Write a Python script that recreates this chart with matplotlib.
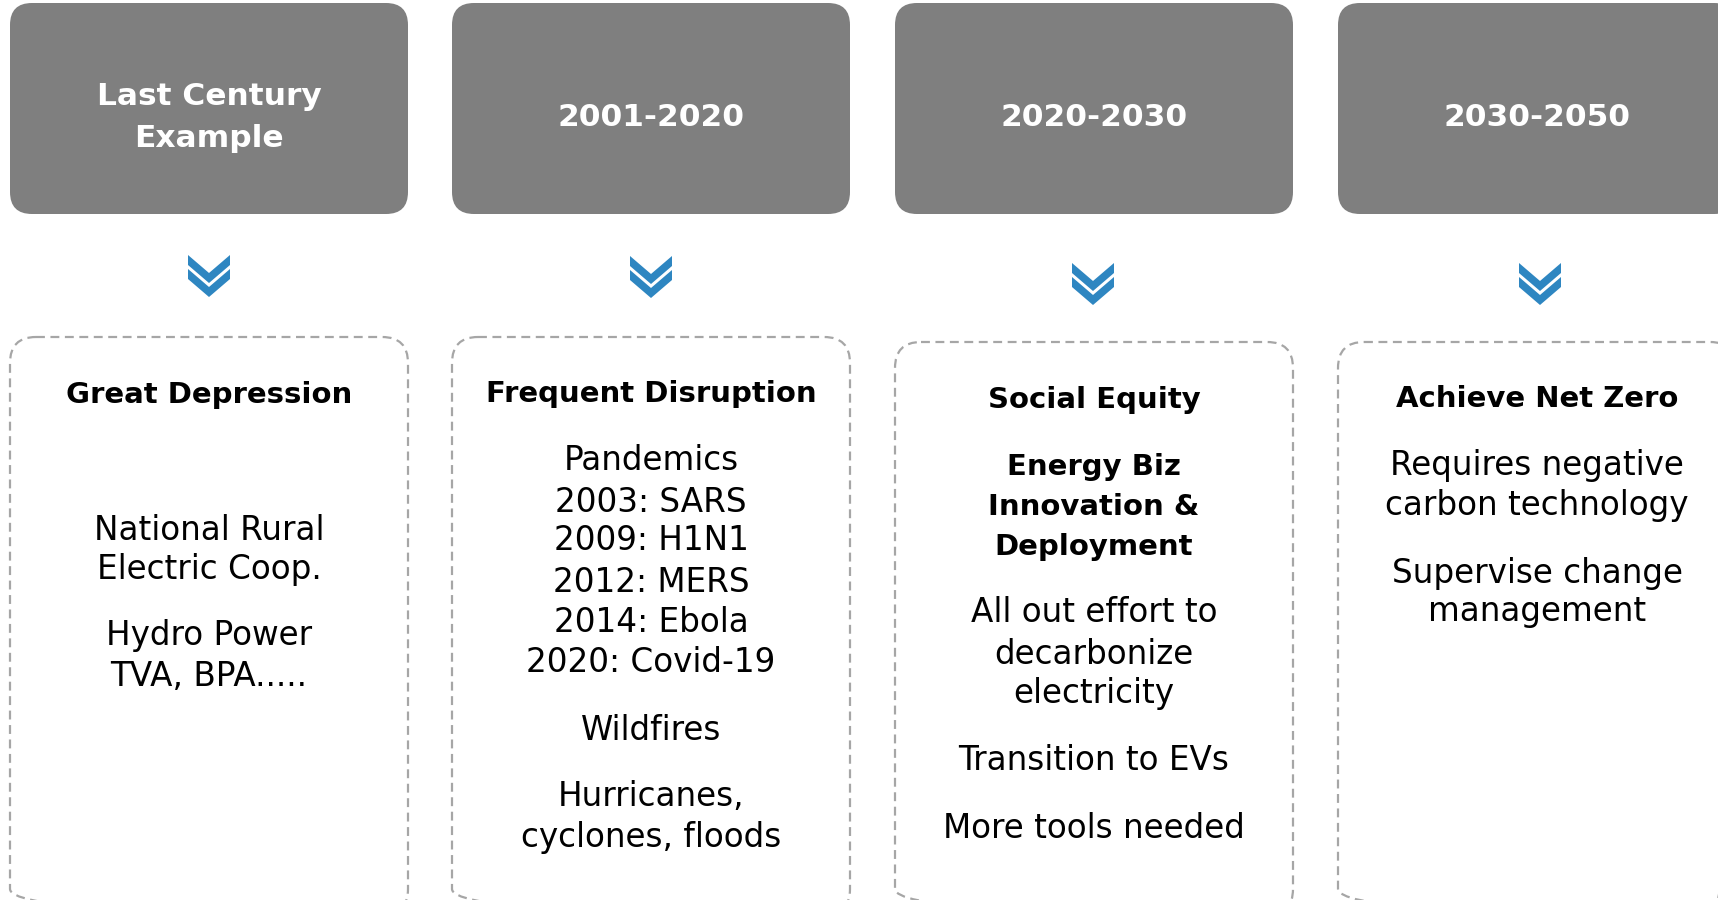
import matplotlib
matplotlib.use("Agg")
import matplotlib.pyplot as plt
from matplotlib.patches import FancyBboxPatch, Polygon

# column headers (grey boxes)
headers = ["Last Century\nExample", "2001-2020", "2020-2030", "2030-2050"]

# body lines per column: (text, bold)
col1 = [("Great Depression", True),
        ("National Rural", False), ("Electric Coop.", False),
        ("Hydro Power", False), ("TVA, BPA.....", False)]
col2 = [("Frequent Disruption", True),
        ("Pandemics", False), ("2003: SARS", False), ("2009: H1N1", False),
        ("2012: MERS", False), ("2014: Ebola", False), ("2020: Covid-19", False),
        ("Wildfires", False),
        ("Hurricanes,", False), ("cyclones, floods", False)]
col3 = [("Social Equity", True),
        ("Energy Biz", True), ("Innovation &", True), ("Deployment", True),
        ("All out effort to", False), ("decarbonize", False), ("electricity", False),
        ("Transition to EVs", False),
        ("More tools needed", False)]
col4 = [("Achieve Net Zero", True),
        ("Requires negative", False), ("carbon technology", False),
        ("Supervise change", False), ("management", False)]
columns = [col1, col2, col3, col4]

# layout (pixels, y down)
W, H = 1718, 900
box_left = [10, 452, 895, 1338]
box_w = 398
head_top, head_bot = 3, 214
body_top = [337, 337, 342, 342]
chev_x = [209, 651, 1093, 1540]
chev_y = [255, 256, 263, 263]
line_y = [
    [395, 530, 570, 636, 676],
    [394, 461, 502, 541, 582, 622, 662, 730, 796, 838],
    [400, 467, 507, 547, 613, 655, 694, 761, 828],
    [399, 465, 506, 573, 612],
]

GREY = "#7f7f7f"
DASH = "#a6a6a6"
BLUE = "#2e86c1"

fig = plt.figure(figsize=(W / 100, H / 100), dpi=100)
ax = fig.add_axes([0, 0, 1, 1])
ax.set_xlim(0, W)
ax.set_ylim(H, 0)
ax.axis("off")

for i in range(4):
    x0 = box_left[i]
    cx = x0 + box_w / 2
    # header box
    ax.add_patch(FancyBboxPatch((x0, head_top), box_w, head_bot - head_top,
                                boxstyle="round,pad=0,rounding_size=22",
                                facecolor=GREY, edgecolor="none"))
    ax.text(cx, (head_top + head_bot) / 2 + 9, headers[i], ha="center", va="center",
            color="white", fontsize=22.5, fontweight="bold", linespacing=1.55)
    # chevrons
    for k in range(2):
        y0 = chev_y[i] + 14 * k
        pts = [(-21, 0), (0, 18), (21, 0), (21, 10), (0, 28), (-21, 10)]
        pts = [(chev_x[i] + px, y0 + py) for px, py in pts]
        ax.add_patch(Polygon(pts, closed=True, facecolor=BLUE, edgecolor="none"))
    # dashed body box
    ax.add_patch(FancyBboxPatch((x0, body_top[i]), box_w, 915 - body_top[i],
                                boxstyle="round,pad=0,rounding_size=26",
                                facecolor="none", edgecolor=DASH, linewidth=1.6,
                                linestyle=(0, (4, 2.5))))
    for (txt, bold), y in zip(columns[i], line_y[i]):
        ax.text(cx, y, txt, ha="center", va="center", color="black",
                fontsize=21 if bold else 23.5,
                fontweight="bold" if bold else "normal")

fig.savefig("out.png", dpi=100)
